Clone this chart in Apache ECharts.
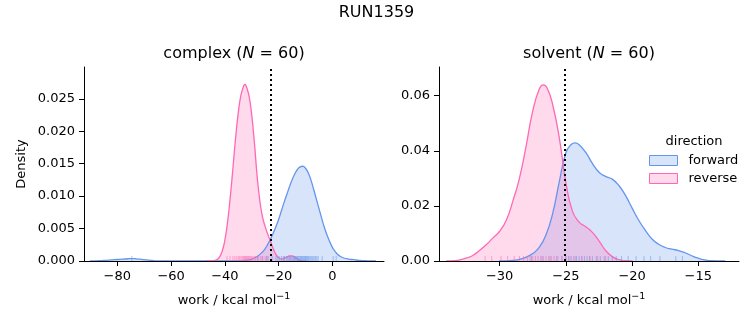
<!DOCTYPE html>
<html>
<head>
<meta charset="utf-8">
<script src="https://cdn.jsdelivr.net/npm/echarts@6/dist/echarts.min.js"></script>
<style>html,body{margin:0;padding:0;background:#fff}#c{width:753px;height:325px}</style>
</head>
<body>
<div id="c"></div>
<script>
// ---- data ----
const complexForwardKDE = [[-90,0],[-88,0.00002],[-86,0.00006],[-84,0.00011],[-82,0.00017],[-80,0.00023],[-78,0.0003],[-76,0.00035],[-74.5,0.00037],[-73,0.00034],[-71,0.00026],[-69,0.00016],[-67,0.00008],[-65,0.00003],[-62,0.00001],[-58,0],[-40,0],[-34,0.00003],[-32,0.0001],[-30,0.0003],[-28,0.0007],[-26,0.0014],[-25,0.0019],[-24,0.0026],[-23,0.0034],[-22,0.0043],[-21,0.0053],[-20,0.0064],[-19,0.0077],[-18,0.009],[-17,0.0102],[-16,0.0114],[-15,0.0125],[-14,0.0134],[-13,0.0141],[-12,0.0145],[-11,0.0146],[-10,0.0143],[-9,0.0136],[-8,0.0125],[-7,0.0111],[-6,0.0096],[-5,0.0081],[-4,0.0066],[-3,0.0052],[-2,0.004],[-1,0.003],[0,0.0021],[1,0.0015],[2,0.001],[3,0.0007],[4,0.0005],[6,0.0003],[8,0.0002],[10,0.0001],[13,0.00003],[16,0]];
const complexReverseKDE = [[-47,0],[-45,0.00002],[-44,0.00008],[-43,0.0002],[-42,0.0006],[-41,0.0015],[-40,0.0032],[-39,0.006],[-38,0.0098],[-37,0.0143],[-36,0.019],[-35,0.0229],[-34,0.0256],[-33,0.027],[-32.5,0.0272],[-32,0.0269],[-31,0.0254],[-30,0.0225],[-29,0.0182],[-28,0.0131],[-27,0.0093],[-26,0.0068],[-25,0.0053],[-24,0.0041],[-23,0.003],[-22,0.0019],[-21,0.001],[-20,0.0005],[-19,0.0003],[-18,0.0004],[-17,0.0006],[-16,0.0008],[-15,0.0008],[-14,0.0006],[-13,0.0003],[-12,0.0001],[-10,0]];
const solventForwardKDE = [[-30,0],[-29,0.0002],[-28.5,0.0006],[-28,0.0014],[-27.5,0.0027],[-27,0.005],[-26.5,0.0095],[-26,0.0172],[-25.5,0.0287],[-25,0.0393],[-24.6,0.0423],[-24.3,0.0429],[-24,0.0422],[-23.5,0.0394],[-23,0.0354],[-22.5,0.0322],[-22,0.0307],[-21.5,0.0297],[-21,0.0274],[-20.5,0.0238],[-20,0.0192],[-19.5,0.0148],[-19,0.0111],[-18.5,0.008],[-18,0.0061],[-17.5,0.0049],[-17,0.0043],[-16.5,0.0038],[-16,0.003],[-15.5,0.0019],[-15,0.001],[-14.5,0.0004],[-14,0.0001],[-13,0]];
const solventReverseKDE = [[-34,0],[-33.5,0.0001],[-33,0.0004],[-32.5,0.0011],[-32,0.0021],[-31.5,0.0039],[-31,0.006],[-30.5,0.0084],[-30,0.0108],[-29.5,0.0148],[-29,0.0218],[-28.5,0.0302],[-28,0.0418],[-27.5,0.0545],[-27,0.0625],[-26.7,0.0639],[-26.4,0.0626],[-26,0.0568],[-25.5,0.0448],[-25,0.0285],[-24.5,0.018],[-24,0.0141],[-23.5,0.0124],[-23,0.0104],[-22.5,0.0073],[-22,0.0038],[-21.5,0.0016],[-21,0.0005],[-20.5,0.0001],[-20,0]];
const complexForwardRug = [-74.6,-27.8,-26.1,-24.5,-23.9,-22.4,-21.0,-20.3,-19.6,-18.9,-18.2,-17.8,-17.1,-16.6,-16.2,-15.8,-15.4,-15.0,-14.6,-14.3,-14.0,-13.7,-13.3,-13.0,-12.7,-12.4,-12.1,-11.8,-11.5,-11.2,-10.9,-10.6,-10.3,-10.0,-9.7,-9.4,-9.1,-8.8,-8.4,-8.0,-7.6,-7.2,-6.8,-6.3,-5.8,-5.3,-3.8,0.3,1.4];
const complexReverseRug = [-39.2,-38.1,-37.0,-36.3,-35.6,-35.0,-34.5,-34.0,-33.6,-33.2,-32.9,-32.6,-32.3,-32.0,-31.7,-31.4,-31.1,-30.8,-30.4,-30.0,-29.6,-29.1,-28.6,-28.0,-27.4,-26.7,-25.9,-25.0,-24.3,-15.7];
const solventForwardRug = [-27.6,-26.8,-26.2,-25.7,-25.3,-25.0,-24.8,-24.6,-24.4,-24.2,-24.0,-23.8,-23.6,-23.4,-23.2,-23.0,-22.7,-22.4,-22.1,-21.8,-21.5,-21.2,-20.8,-20.3,-19.7,-19.1,-18.6,-17.9,-16.7,-16.2];
const solventReverseRug = [-31.1,-30.6,-29.9,-29.4,-28.9,-28.5,-28.2,-27.9,-27.7,-27.5,-27.3,-27.1,-26.9,-26.7,-26.5,-26.3,-26.1,-25.9,-25.6,-25.3,-25.0,-24.7,-24.3,-23.8,-23.2,-22.6,-22.0];
const complexXTicks = [-80,-60,-40,-20,0];
const complexYTicks = [0,0.005,0.01,0.015,0.02,0.025];
const solventXTicks = [-30,-25,-20,-15];
const solventYTicks = [0,0.02,0.04,0.06];
const complexMean = -22.8;
const solventMean = -25.1;
const suptitle = 'RUN1359';
const nComplex = 60, nSolvent = 60;

// ---- styles ----
const BLUE = '#6495ED', PINK = '#FF69B4';
const FONT = 'DejaVu Sans';
const FS = 13;
const chart = echarts.init(document.getElementById('c'), null, {renderer:'canvas'});

function xAxisCfg(idx, min, max, ticks, dec){
  return {type:'value', gridIndex: idx, min, max, z: 10,
    axisLine:{show:true, onZero:false, lineStyle:{color:'#000', width:1}},
    axisTick:{show:true, length:5, customValues: ticks, lineStyle:{color:'#000'}},
    axisLabel:{show:true, margin:9, customValues: ticks, color:'#000', fontFamily:FONT, fontSize:FS,
      formatter: v => (v<0?'\u2212':'') + Math.abs(v).toFixed(dec)},
    splitLine:{show:false},
    name:'{a|work / kcal mol}{s|\u22121}', nameLocation:'middle', nameGap:31,
    nameTextStyle:{color:'#000', fontFamily:FONT, fontSize:FS,
      rich:{a:{fontFamily:FONT, fontSize:FS, color:'#000'}, s:{fontFamily:FONT, fontSize:9.5, color:'#000', padding:[0,0,7,0]}}}};
}
function yAxisCfg(idx, max, ticks, dec, name){
  return {type:'value', gridIndex: idx, min:0, max, z: 10,
    axisLine:{show:true, onZero:false, lineStyle:{color:'#000', width:1}},
    axisTick:{show:true, length:5, customValues: ticks, lineStyle:{color:'#000'}},
    axisLabel:{show:true, margin:9, customValues: ticks, color:'#000', fontFamily:FONT, fontSize:FS,
      formatter: v => v.toFixed(dec)},
    splitLine:{show:false},
    name: name || '', nameLocation:'middle', nameGap:56, nameRotate:90,
    nameTextStyle:{color:'#000', fontFamily:FONT, fontSize:FS}};
}
function kde(name, data, color, idx, withMark, markX){
  const s = {type:'line', name, xAxisIndex:idx, yAxisIndex:idx, data, symbol:'none', showSymbol:false,
    smooth:0.5, lineStyle:{color, width:1.3, cap:'round', join:'round'}, itemStyle:{color},
    areaStyle:{color, opacity:0.25}, silent:true, z:2};
  if (withMark) s.markLine = {silent:true, symbol:'none', label:{show:false},
    lineStyle:{color:'#000', type:[2,3], width:2}, data:[{xAxis:markX}], z:5};
  return s;
}
function rug(name, vals, color, idx){
  return {type:'scatter', name, xAxisIndex:idx, yAxisIndex:idx, data: vals.map(v=>[v,0]),
    symbol:'rect', symbolSize:[1,5], symbolOffset:[0,-2.5], itemStyle:{color, opacity:0.55}, silent:true, z:3};
}
const titleRich = {a:{fontFamily:FONT, fontSize:16, color:'#000'}, i:{fontFamily:FONT, fontSize:16, fontStyle:'italic', color:'#000'}};
chart.setOption({
  animation:false,
  backgroundColor:'#fff',
  grid:[{left:84, right:369, top:67, bottom:64, containLabel:false},
        {left:439, right:14, top:67, bottom:64, containLabel:false}],
  xAxis:[xAxisCfg(0,-92.4,19.2,complexXTicks,0), xAxisCfg(1,-34.58,-11.93,solventXTicks,0)],
  yAxis:[yAxisCfg(0,0.0299,complexYTicks,3,'Density'), yAxisCfg(1,0.0704,solventYTicks,2,'')],
  legend:{show:true, orient:'vertical', left:649, top:154, padding:0, itemWidth:28, itemHeight:10, itemGap:5,
    icon:'rect', selectedMode:false,
    textStyle:{fontFamily:FONT, fontSize:FS, color:'#000', padding:[0,0,0,6]},
    data:[{name:'forward', itemStyle:{color:'rgba(100,149,237,0.25)', borderColor:BLUE, borderWidth:1}},
          {name:'reverse', itemStyle:{color:'rgba(255,105,180,0.25)', borderColor:PINK, borderWidth:1}}]},
  graphic:[
    {type:'text', x:376.5, y:13, style:{text:suptitle, font:'16px "DejaVu Sans"', fill:'#000', textAlign:'center', textVerticalAlign:'middle'}},
    {type:'text', x:234, y:54, style:{text:'{a|complex (}{i|N}{a| = '+nComplex+')}', rich:titleRich, textAlign:'center', textVerticalAlign:'middle'}},
    {type:'text', x:589, y:54, style:{text:'{a|solvent (}{i|N}{a| = '+nSolvent+')}', rich:titleRich, textAlign:'center', textVerticalAlign:'middle'}},
    {type:'text', x:694, y:142, style:{text:'direction', font:FS+'px "DejaVu Sans"', fill:'#000', textAlign:'center', textVerticalAlign:'middle'}}
  ],
  series:[
    kde('forward', complexForwardKDE, BLUE, 0, false),
    kde('reverse', complexReverseKDE, PINK, 0, true, complexMean),
    rug('forward', complexForwardRug, BLUE, 0),
    rug('reverse', complexReverseRug, PINK, 0),
    kde('forward', solventForwardKDE, BLUE, 1, false),
    kde('reverse', solventReverseKDE, PINK, 1, true, solventMean),
    rug('forward', solventForwardRug, BLUE, 1),
    rug('reverse', solventReverseRug, PINK, 1)
  ]
});
</script>
</body>
</html>
